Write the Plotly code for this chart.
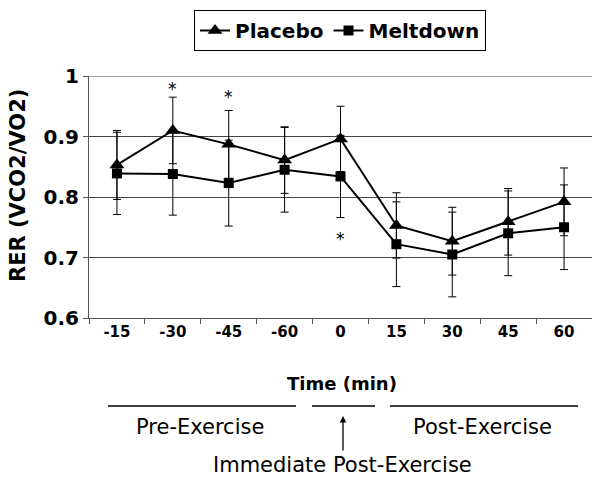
import plotly.graph_objects as go

times = ["-15", "-30", "-45", "-60", "0", "15", "30", "45", "60"]
placebo = [0.853, 0.910, 0.887, 0.861, 0.896, 0.753, 0.727, 0.759, 0.792]
placebo_sd = [0.057, 0.055, 0.056, 0.055, 0.054, 0.054, 0.056, 0.055, 0.056]
meltdown = [0.839, 0.838, 0.823, 0.845, 0.834, 0.722, 0.705, 0.740, 0.750]
meltdown_sd = [0.068, 0.068, 0.071, 0.070, 0.068, 0.070, 0.070, 0.070, 0.070]
star_x = ["-30", "-45", "0"]
star_y = [0.978, 0.966, 0.730]
y_ticks = [0.6, 0.7, 0.8, 0.9, 1.0]

BOLD = "DejaVu Sans, Liberation Sans, Arial, sans-serif"
W, H = 592, 485
L, R, T, B = 89, 0, 76, 167
pw, ph = W - L - R, H - T - B

def px(x):
    return (x - L) / pw

def py(y):
    return (H - B - y) / ph

fig = go.Figure()
fig.add_trace(go.Scatter(
    x=times, y=placebo, name="Placebo", mode="lines+markers",
    line=dict(color="black", width=2),
    marker=dict(symbol="triangle-up", size=13, color="black"),
    error_y=dict(type="data", array=placebo_sd, color="black", thickness=1, width=4),
))
fig.add_trace(go.Scatter(
    x=times, y=meltdown, name="Meltdown", mode="lines+markers",
    line=dict(color="black", width=2),
    marker=dict(symbol="square", size=10, color="black"),
    error_y=dict(type="data", array=meltdown_sd, color="black", thickness=1, width=4),
))

for sx, sy in zip(star_x, star_y):
    fig.add_annotation(x=times.index(sx), y=sy, text="*", showarrow=False,
                       font=dict(family=BOLD, size=17, color="black"),
                       xref="x", yref="y", yanchor="middle")

annotations = [
    dict(x=px(18), y=py(186), text="RER (VCO2/VO2)", textangle=-90,
         font=dict(size=21, weight="bold")),
    dict(x=px(342), y=py(383), text="Time (min)", font=dict(size=18, weight="bold")),
    dict(x=px(200), y=py(427), text="Pre-Exercise", font=dict(size=21)),
    dict(x=px(482), y=py(427), text="Post-Exercise", font=dict(size=21)),
    dict(x=px(342), y=py(465), text="Immediate Post-Exercise", font=dict(size=21)),
]
for a in annotations:
    a["font"]["family"] = BOLD
    a["font"]["color"] = "black"
    fig.add_annotation(xref="paper", yref="paper", showarrow=False,
                       xanchor="center", yanchor="middle", **a)

# arrow
fig.add_annotation(xref="paper", yref="paper", x=px(343), y=py(416),
                   ax=0, ay=36, axref="pixel", ayref="pixel",
                   showarrow=True, arrowhead=2, arrowsize=1, arrowwidth=1.3,
                   arrowcolor="black", text="")

for x0, x1 in [(108, 296), (312, 375), (390, 578)]:
    fig.add_shape(type="line", xref="paper", yref="paper",
                  x0=px(x0), x1=px(x1), y0=py(406), y1=py(406),
                  line=dict(color="black", width=1.5))

# top gridline at the highest tick (plotly drops gridlines on the range edge)
fig.add_shape(type="line", xref="paper", yref="y", x0=0, x1=1,
              y0=max(y_ticks), y1=max(y_ticks), line=dict(color="#444", width=1),
              layer="below")

fig.update_layout(
    width=W, height=H,
    margin=dict(l=L, r=R, t=T, b=B, pad=0, autoexpand=False),
    plot_bgcolor="white", paper_bgcolor="white",
    font=dict(family=BOLD, color="black"),
    showlegend=True,
    legend=dict(orientation="h", x=px(340), xanchor="center", y=py(10), yanchor="top",
                bordercolor="black", borderwidth=1, bgcolor="white",
                font=dict(size=20, weight="bold", family=BOLD),
                itemwidth=30, tracegroupgap=0),
    xaxis=dict(type="category", range=[-0.5, 8.5], showgrid=False,
               showline=True, linecolor="#555", linewidth=1,
               ticks="outside", tickson="boundaries", ticklen=5, tickcolor="#555",
               tickfont=dict(size=15, weight="bold", family=BOLD), fixedrange=True),
    yaxis=dict(range=[0.6, 1.0], tickvals=y_ticks, showgrid=True, gridcolor="#444",
               gridwidth=1, showline=True, linecolor="#555", linewidth=1,
               ticks="outside", ticklen=5, tickcolor="#555", zeroline=False,
               tickfont=dict(size=20, weight="bold", family=BOLD)),
)

fig.write_html("out.html", config={"displayModeBar": False},
               post_script="document.body.style.margin='0';document.body.style.overflow='hidden';")
